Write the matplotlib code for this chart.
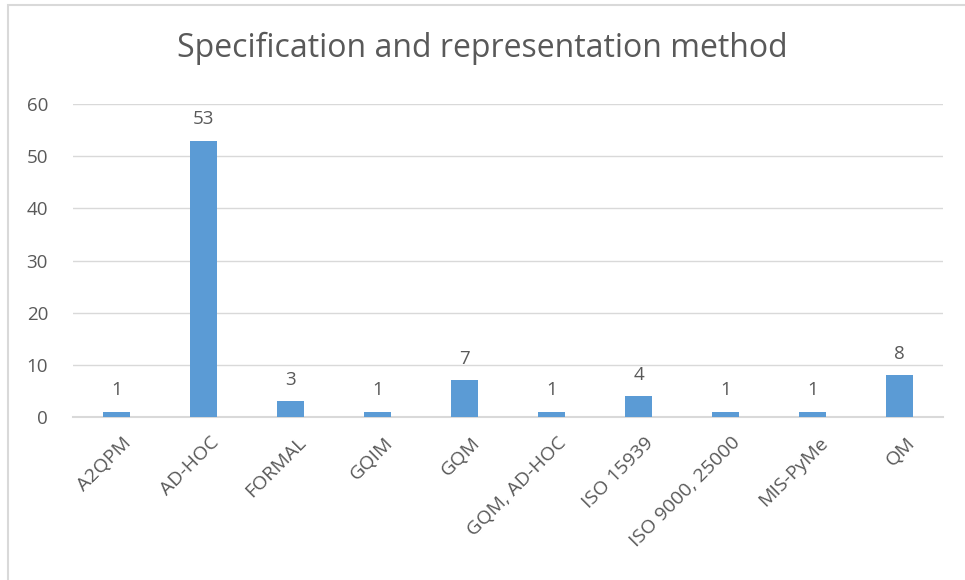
import matplotlib.pyplot as plt
import matplotlib.transforms as mtransforms
from matplotlib.patches import Rectangle

# Data
methods = ["A2QPM", "AD-HOC", "FORMAL", "GQIM", "GQM", "GQM, AD-HOC",
           "ISO 15939", "ISO 9000, 25000", "MIS-PyMe", "QM"]
counts = [1, 53, 3, 1, 7, 1, 4, 1, 1, 8]
y_ticks = [0, 10, 20, 30, 40, 50, 60]

plt.rcParams["font.family"] = ["Open Sans", "DejaVu Sans"]
text_color = "#595959"

fig = plt.figure(figsize=(9.65, 5.8), dpi=100)
ax = fig.add_axes([73 / 965, 1 - 417 / 580, 870 / 965, 313 / 580])

# chart frame (light border, cut at right/bottom)
fig.patches.append(Rectangle((8 / 965, -0.1), 1.2, 1 - 5 / 580 + 0.1,
                             transform=fig.transFigure, fill=False,
                             edgecolor="#d9d9d9", linewidth=1.5))

x = range(len(methods))
bars = ax.bar(x, counts, width=0.31, color="#5b9bd5", zorder=3)

for xi, v in zip(x, counts):
    ax.annotate(str(v), (xi, v), xytext=(0, 9), textcoords="offset points",
                ha="center", va="bottom", fontsize=13.5, color=text_color)

ax.set_xlim(-0.5, len(methods) - 0.5)
ax.set_ylim(0, 60)
ax.set_yticks(y_ticks)
ax.set_xticks(list(x))
ax.set_xticklabels(methods, rotation=45, ha="right", rotation_mode="anchor",
                   fontsize=14, color=text_color)
ax.tick_params(axis="y", labelsize=13.5, labelcolor=text_color, length=0, pad=18)
ax.tick_params(axis="x", length=0, pad=12)

# nudge rotated labels a little to the right
shift = mtransforms.ScaledTranslation(6 / 100, 0, fig.dpi_scale_trans)
for lbl in ax.get_xticklabels():
    lbl.set_transform(lbl.get_transform() + shift)

ax.grid(axis="y", color="#d9d9d9", linewidth=1, zorder=0)
for side in ["top", "right", "left"]:
    ax.spines[side].set_visible(False)
ax.spines["bottom"].set_color("#d9d9d9")
ax.spines["bottom"].set_linewidth(1.5)

fig.text(0.5, 1 - 48 / 580, "Specification and representation method",
         ha="center", va="center", fontsize=23, color=text_color)

plt.savefig("out.png", dpi=100)
